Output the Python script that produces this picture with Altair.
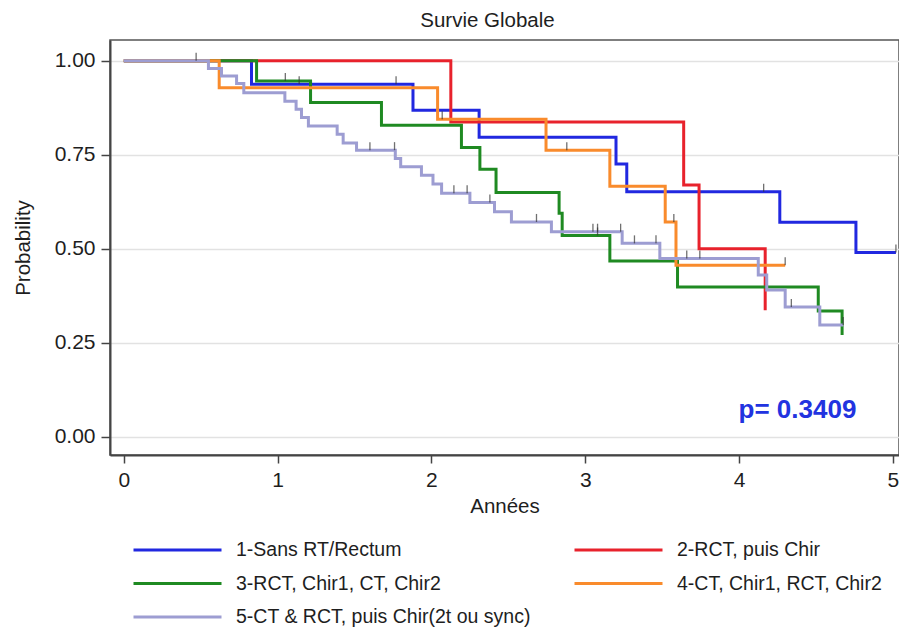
import altair as alt
import pandas as pd

FONT = "Liberation Sans"

groups = [
    "1-Sans RT/Rectum",
    "2-RCT, puis Chir",
    "3-RCT, Chir1, CT, Chir2",
    "4-CT, Chir1, RCT, Chir2",
    "5-CT & RCT, puis Chir(2t ou sync)",
]
colors = ["#2128e0", "#e8222c", "#1f8a22", "#f98b2c", "#9d9dd2"]

# Kaplan-Meier step curves (time in years, survival probability)
g1_t = [0, 0.83, 1.88, 2.31, 3.20, 3.27, 4.265, 4.76, 5.02]
g1_s = [1.0, 0.9375, 0.868, 0.796, 0.725, 0.651, 0.57, 0.49, 0.49]

g2_t = [0, 2.126, 3.64, 3.74, 4.17]
g2_s = [1.0, 0.837, 0.669, 0.50, 0.336]

g3_t = [0, 0.863, 1.214, 1.675, 2.195, 2.315, 2.42, 2.83, 2.85, 3.16, 3.60, 4.515, 4.67]
g3_s = [1.0, 0.946, 0.889, 0.828, 0.769, 0.711, 0.649, 0.594, 0.535, 0.467, 0.398, 0.334, 0.27]

g4_t = [0, 0.62, 2.04, 2.745, 3.16, 3.52, 3.59, 4.30]
g4_s = [1.0, 0.928, 0.844, 0.762, 0.666, 0.571, 0.456, 0.456]

g5_t = [0, 0.55, 0.635, 0.733, 0.78, 1.047, 1.12, 1.155, 1.20, 1.387, 1.426, 1.513,
        1.765, 1.80, 1.935, 2.01, 2.066, 2.25, 2.41, 2.52, 2.78, 3.24, 3.485, 4.125,
        4.18, 4.30, 4.525, 4.677]
g5_s = [1.0, 0.979, 0.959, 0.939, 0.915, 0.892, 0.871, 0.849, 0.826, 0.804, 0.781, 0.762,
        0.74, 0.718, 0.695, 0.672, 0.647, 0.623, 0.598, 0.571, 0.545, 0.514, 0.474, 0.43,
        0.39, 0.345, 0.297, 0.297]

# censored observations
c1_t = [1.14, 1.77, 4.16, 5.02]
c1_s = [0.9375, 0.9375, 0.651, 0.49]
c3_t = [1.05, 3.08]
c3_s = [0.946, 0.535]
c4_t = [2.07, 2.88, 3.576, 4.30]
c4_s = [0.844, 0.762, 0.571, 0.456]
c5_t = [0.47, 1.60, 1.76, 2.146, 2.232, 2.38, 2.683, 3.05, 3.08, 3.23, 3.32, 3.46, 3.66, 3.745, 4.34, 4.677]
c5_s = [1.0, 0.762, 0.762, 0.647, 0.647, 0.623, 0.571, 0.545, 0.545, 0.545, 0.514, 0.514, 0.474, 0.474, 0.345, 0.297]

p_label = ["p= 0.3409"]
p_x = [4.38]
p_y = [0.07]

x_ticks = [0, 1, 2, 3, 4, 5]
y_ticks = [0, 0.25, 0.5, 0.75, 1.0]

rows = []
for name, ts, ss in zip(groups, [g1_t, g2_t, g3_t, g4_t, g5_t], [g1_s, g2_s, g3_s, g4_s, g5_s]):
    for i, (t, s) in enumerate(zip(ts, ss)):
        rows.append({"group": name, "t": t, "s": s, "i": i})
curves = pd.DataFrame(rows)

crow = []
for ts, ss in [(c1_t, c1_s), (c3_t, c3_s), (c4_t, c4_s), (c5_t, c5_s)]:
    for t, s in zip(ts, ss):
        crow.append({"t": t, "s": s})
cens = pd.DataFrame(crow)

ptext = pd.DataFrame({"t": p_x, "s": p_y, "label": p_label})

x_enc = alt.X("t:Q",
              scale=alt.Scale(domain=[-0.09, 5.04], nice=False, zero=False),
              axis=alt.Axis(values=x_ticks, format="d", title="Années", grid=False,
                            tickSize=8, labelPadding=6, titlePadding=6))
y_enc = alt.Y("s:Q",
              scale=alt.Scale(domain=[-0.049, 1.055], nice=False, zero=False),
              axis=alt.Axis(values=y_ticks, format=".2f", title="Probability", grid=True,
                            tickSize=9, labelPadding=6, titlePadding=21))

lines = alt.Chart(curves).mark_line(interpolate="step-after", strokeWidth=3).encode(
    x=x_enc,
    y=y_enc,
    order="i:Q",
    color=alt.Color("group:N",
                    scale=alt.Scale(domain=groups, range=colors),
                    legend=alt.Legend(title=None, orient="none", legendX=22, legendY=500,
                                      direction="horizontal",
                                      columns=2, symbolType="stroke", symbolSize=7744,
                                      symbolStrokeWidth=3, labelFontSize=19.5, labelFont=FONT,
                                      labelColor="#1e1e1e", clipHeight=20, rowPadding=13.5,
                                      columnPadding=42, labelOffset=13, padding=0,
                                      labelLimit=500)),
)

ticks = alt.Chart(cens).mark_tick(orient="vertical", size=8, thickness=1.3,
                                  color="#333333", yOffset=-4).encode(x=x_enc, y=y_enc)

ptxt = alt.Chart(ptext).mark_text(fontSize=26, fontWeight="bold", color="#2233e0",
                                  font=FONT).encode(x=x_enc, y=y_enc, text="label:N")

chart = alt.layer(lines, ticks, ptxt).properties(
    width=789, height=415,
    background="white",
    autosize=alt.AutoSizeParams(type="none"),
    padding={"left": 102, "top": 32, "right": 0, "bottom": 174},
    title=alt.TitleParams("Survie Globale", fontSize=20.5, fontWeight="normal", font=FONT,
                          color="#1e1e1e", offset=9, dx=-17, anchor="middle"),
).configure_axis(
    labelFont=FONT, titleFont=FONT, labelFontSize=21, titleFontSize=20.5,
    titleFontWeight="normal", labelColor="#1e1e1e", titleColor="#1e1e1e",
    tickColor="#444444", tickWidth=1.5, domainColor="#444444", domainWidth=2,
    gridColor="#e2e2e2", gridWidth=1.5,
).configure_view(stroke="#555555", strokeWidth=1.5)

chart.save("out.html", embed_options={"renderer": "svg", "actions": False})
